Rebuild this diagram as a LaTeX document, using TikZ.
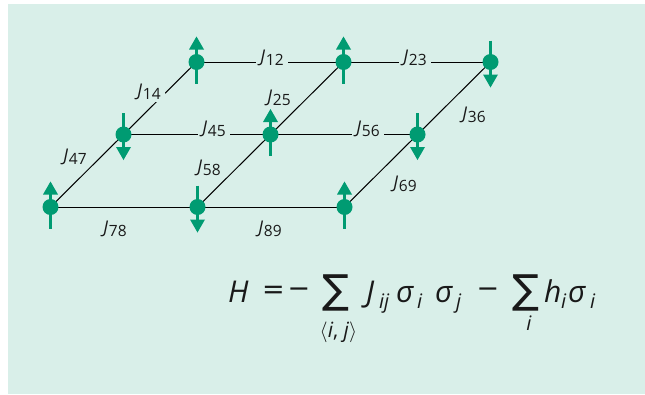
\documentclass[tikz,border=0pt]{standalone}
\usepackage{fontspec}
\setmainfont{Open Sans}
\newfontfamily\symfont{DejaVu Sans}
\usetikzlibrary{calc}
\definecolor{bgmint}{RGB}{217,239,233}
\definecolor{spingreen}{RGB}{0,155,114}
\definecolor{inkc}{RGB}{25,25,25}
\newcommand\Jlab[1]{{\fontsize{17.5}{17.5}\selectfont\itshape J}\kern1pt\raisebox{-2.5pt}{\fontsize{15.5}{15.5}\selectfont #1}}
\newcommand\spinup[1]{%
  \draw[spinline] ($(#1)+(0,21.5)$) -- ($(#1)+(0,-13)$);
  \fill[spingreen] ($(#1)+(-7.5,-12.5)$) -- ($(#1)+(7.5,-12.5)$) -- ($(#1)+(0,-25.5)$) -- cycle;}
\newcommand\spindown[1]{%
  \draw[spinline] ($(#1)+(0,-21.5)$) -- ($(#1)+(0,13)$);
  \fill[spingreen] ($(#1)+(-7.5,12.5)$) -- ($(#1)+(7.5,12.5)$) -- ($(#1)+(0,25.5)$) -- cycle;}
\begin{document}
\begin{tikzpicture}[x=1pt,y=-1pt,
  edge/.style={draw=black,line width=1pt},
  lab/.style={text=inkc,inner sep=0pt},
  gap/.style={lab,fill=bgmint,inner xsep=4pt,inner ysep=2pt},
  spinline/.style={draw=spingreen,line width=3pt},
  dot/.style={circle,fill=spingreen,minimum size=16pt,inner sep=0pt},
  fm/.style={text=inkc,inner sep=0pt,anchor=base west,font=\fontsize{30}{30}\selectfont},
  fop/.style={text=inkc,inner sep=0pt,font=\symfont\fontsize{27}{27}\selectfont},
  fs/.style={text=inkc,inner sep=0pt,anchor=base west,font=\fontsize{20}{20}\selectfont\itshape},
  fsum/.style={text=inkc,inner sep=0pt,font=\symfont\fontsize{40}{40}\selectfont}]
\useasboundingbox (0,0) rectangle (645,394);
\fill[white] (0,0) rectangle (645,394);
\fill[bgmint] (8,4) rectangle (645,394);
% lattice sites
\coordinate (n1) at (196.5,62);
\coordinate (n2) at (343.5,62);
\coordinate (n3) at (490.5,62);
\coordinate (n4) at (123.5,134.5);
\coordinate (n5) at (270.5,134.5);
\coordinate (n6) at (417.5,134.5);
\coordinate (n7) at (50.5,207);
\coordinate (n8) at (197.5,207);
\coordinate (n9) at (344.5,207);
% bonds
\draw[edge] (n1) -- (n2);
\draw[edge] (n2) -- (n3);
\draw[edge] (n4) -- (n5);
\draw[edge] (n5) -- (n6);
\draw[edge] (n7) -- (n8);
\draw[edge] (n8) -- (n9);
\draw[edge] (n7) -- (n4);
\draw[edge] (n4) -- (n1);
\draw[edge] (n8) -- (n5);
\draw[edge] (n5) -- (n2);
\draw[edge] (n9) -- (n6);
\draw[edge] (n6) -- (n3);
% bond labels
\node[gap] (j12) at (272,58) {\Jlab{12}};
\node[gap] (j23) at (415,58) {\Jlab{23}};
\node[gap] (j14) at (149,92) {\Jlab{14}};
\node[lab] (j25) at (279,98) {\Jlab{25}};
\node[lab] (j36) at (474,115) {\Jlab{36}};
\node[gap] (j45) at (214,129) {\Jlab{45}};
\node[gap] (j56) at (368,129) {\Jlab{56}};
\node[lab] (j47) at (75,157) {\Jlab{47}};
\node[lab] (j58) at (209,168) {\Jlab{58}};
\node[lab] (j69) at (405,184) {\Jlab{69}};
\node[lab] (j78) at (115,229) {\Jlab{78}};
\node[lab] (j89) at (270,229) {\Jlab{89}};
% spins
\spinup{n1}\spinup{n2}\spindown{n3}
\spindown{n4}\spinup{n5}\spindown{n6}
\spinup{n7}\spindown{n8}\spinup{n9}
\foreach \k in {1,...,9} \node[dot] (d\k) at (n\k) {};
% Hamiltonian
\node[fm] (fH) at (228,302) {\itshape H};
\node[fop] (feq) at (273.5,292.5) {=};
\node[fop] (fm1) at (299,292.5) {−};
\node[fsum] (fs1) at (336,293) {∑};
\node[text=inkc,inner sep=0pt,font=\fontsize{21}{21}\selectfont] (fij) at (338.5,332) {$\langle$\textit{i}, \textit{j}$\rangle$};
\node[fm] (fJ) at (366,302) {\itshape J};
\node[fs] (fJs) at (379,308) {ij};
\node[fm] (fsg1) at (396,302) {\itshape σ};
\node[fs] (fsg1s) at (417,308) {i};
\node[fm] (fsg2) at (435,302) {\itshape σ};
\node[fs] (fsg2s) at (456,308) {j};
\node[fop] (fm2) at (488,292.5) {−};
\node[fsum] (fs2) at (526,293) {∑};
\node[fs,anchor=center] (fi) at (529,323) {i};
\node[fm] (fh) at (544,302) {\itshape h};
\node[fs] (fhs) at (561,308) {i};
\node[fm] (fsg3) at (568,302) {\itshape σ};
\node[fs] (fsg3s) at (590,308) {i};
\end{tikzpicture}
\end{document}
